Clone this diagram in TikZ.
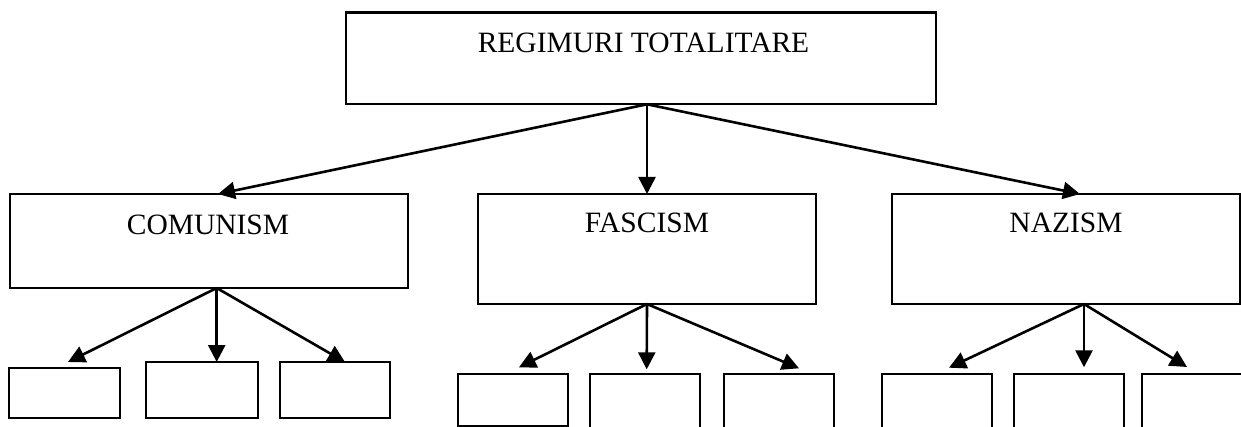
\documentclass[tikz,border=0pt]{standalone}
\usepackage{fontspec}
\setmainfont{Liberation Serif}
\usetikzlibrary{arrows.meta,calc}
\begin{document}
\begin{tikzpicture}[x=1pt,y=-1pt,
  box/.style={draw,line width=2.4pt,rectangle,anchor=north west,inner sep=0pt,outer sep=0pt},
  lbl/.style={anchor=base,inner sep=0pt,font=\fontsize{29.5}{35}\selectfont},
  arr/.style={line width=2.6pt,-{Triangle[length=17pt,width=17pt]}}]
\useasboundingbox (0,0) rectangle (1241,427);
\clip (0,0) rectangle (1241,427);
% level 1
\node[box,minimum width=590pt,minimum height=91.6pt] (top) at (346,12.7) {};
\node[lbl] (ttop) at (643.5,53) {REGIMURI TOTALITARE};
% level 2
\node[box,minimum width=398pt,minimum height=94pt] (com) at (10,194) {};
\node[lbl] (tcom) at (208,235) {COMUNISM};
\node[box,minimum width=338pt,minimum height=110pt] (fas) at (478,194) {};
\node[lbl] (tfas) at (647,233) {FASCISM};
\node[box,minimum width=348pt,minimum height=110pt] (naz) at (892,194) {};
\node[lbl] (tnaz) at (1066,233) {NAZISM};
% level 3
\node[box,minimum width=111pt,minimum height=50pt] (c1) at (9,368) {};
\node[box,minimum width=112pt,minimum height=56pt] (c2) at (146,362) {};
\node[box,minimum width=110pt,minimum height=56pt] (c3) at (280,362) {};
\node[box,minimum width=110pt,minimum height=52pt] (f1) at (458,374) {};
\node[box,minimum width=110pt,minimum height=70pt] (f2) at (590,374) {};
\node[box,minimum width=110pt,minimum height=70pt] (f3) at (724,374) {};
\node[box,minimum width=110pt,minimum height=70pt] (n1) at (882,374) {};
\node[box,minimum width=110pt,minimum height=70pt] (n2) at (1014,374) {};
\node[box,minimum width=400pt,minimum height=70pt] (n3) at (1142,374) {};
% connectors level 1 -> 2
\draw[arr] ([xshift=6pt]top.south) -- ([xshift=9pt]com.north);
\draw[arr] ([xshift=6pt]top.south) -- (fas.north);
\draw[arr] ([xshift=6pt]top.south) -- ([xshift=14pt]naz.north);
% comunism children
\draw[arr] ([xshift=7.7pt]com.south) -- ([shift={(3.5,-6)}]c1.north);
\draw[arr] ([xshift=7.7pt]com.south) -- ([xshift=14.7pt]c2.north);
\draw[arr] ([xshift=7.7pt]com.south) -- ([xshift=10pt]c3.north);
% fascism children
\draw[arr] (fas.south) -- ([shift={(6,-6.7)}]f1.north);
\draw[arr] (fas.south) -- ([shift={(1.7,-4.7)}]f2.north);
\draw[arr] (fas.south) -- ([shift={(20,-5.7)}]f3.north);
% nazism children
\draw[arr] ([xshift=18pt]naz.south) -- ([shift={(12,-6.3)}]n1.north);
\draw[arr] ([xshift=18pt]naz.south) -- ([shift={(15,-6.7)}]n2.north);
\draw[arr] ([xshift=18pt]naz.south) -- ([shift={(45,-7)}]n3.north west);
\end{tikzpicture}
\end{document}
